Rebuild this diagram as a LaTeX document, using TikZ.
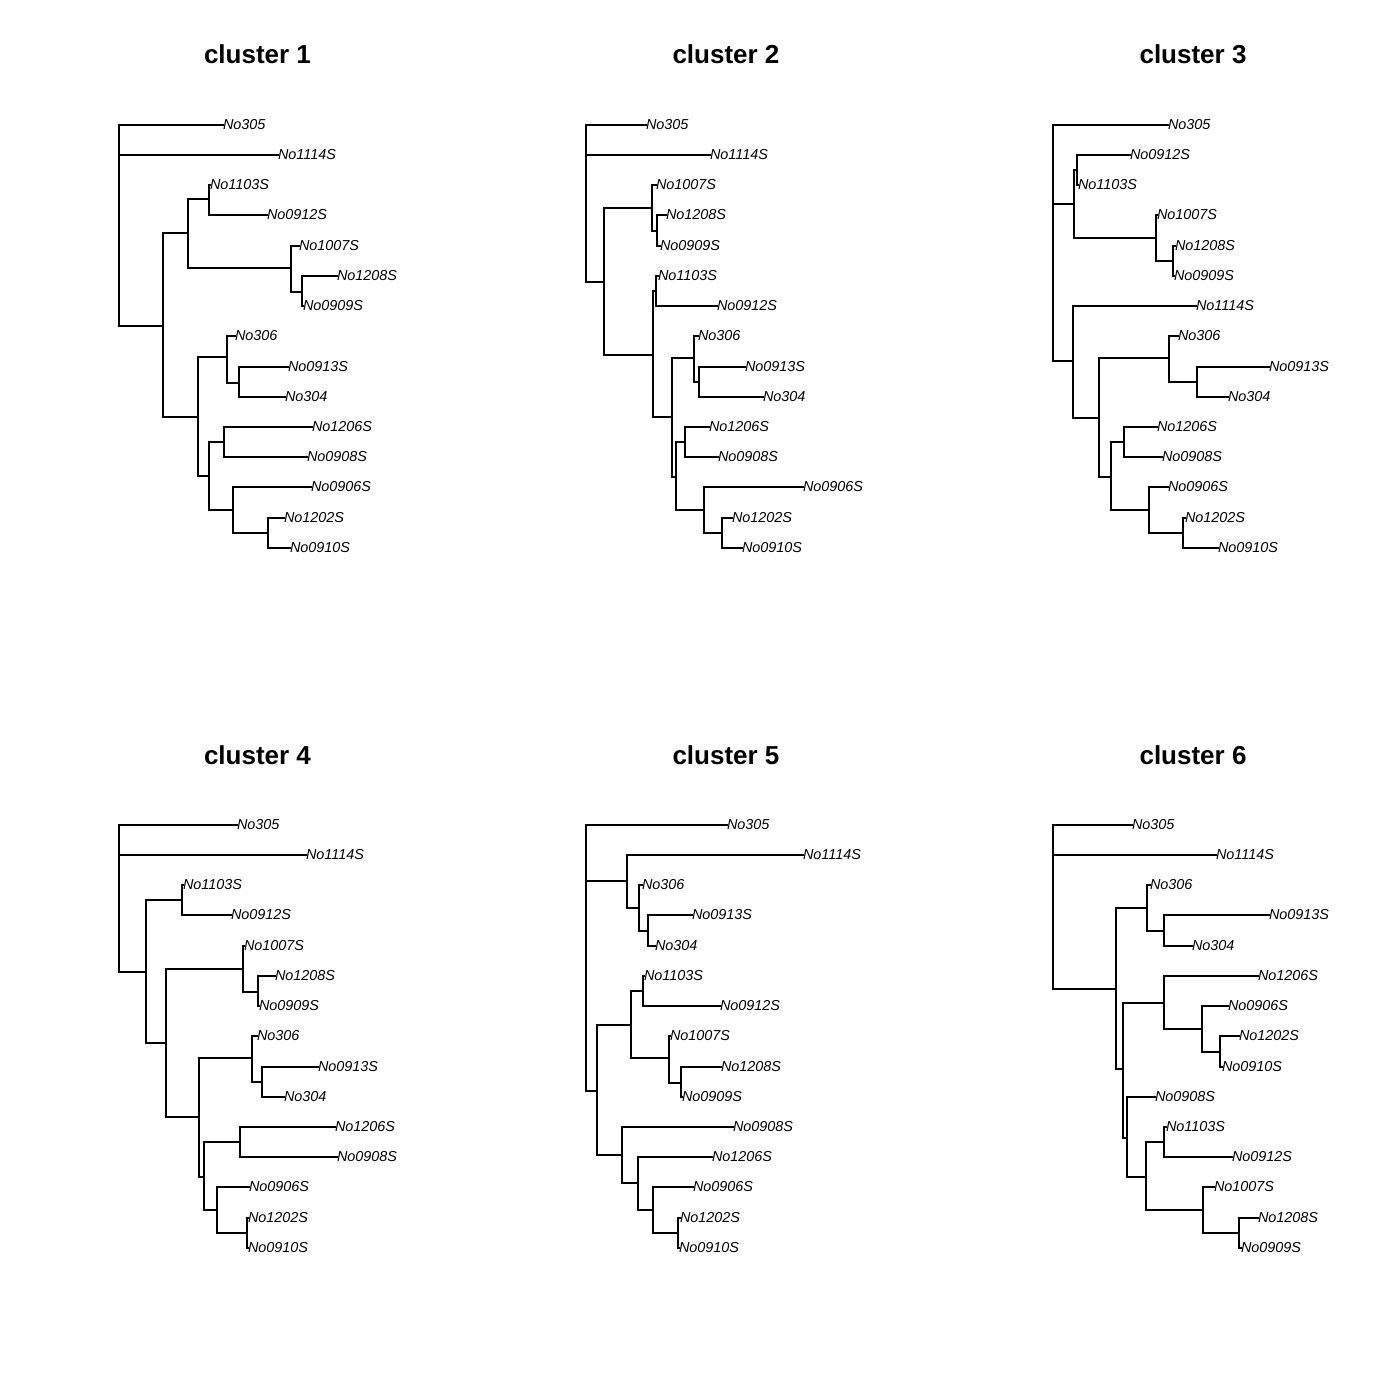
\documentclass[tikz,border=0pt]{standalone}
\usepackage{fontspec}
\setmainfont{Liberation Sans}
\usepackage{tikz}
\tikzset{
  branch/.style={line width=1pt, line cap=rect},
  tiplabel/.style={anchor=west, inner sep=0pt, outer sep=0pt, font=\fontsize{7.2}{8}\selectfont\itshape},
  paneltitle/.style={anchor=base, inner sep=0pt, font=\fontsize{13}{15}\selectfont\bfseries}
}
\begin{document}
\begin{tikzpicture}[x=0.5pt, y=-0.5pt]
  \useasboundingbox (0,0) rectangle (1400,1400);

  \node[paneltitle] (title1) at (257.5,64) {cluster 1};
  \node[paneltitle] (title2) at (726,64) {cluster 2};
  \node[paneltitle] (title3) at (1193,64) {cluster 3};
  \node[paneltitle] (title4) at (257.5,764) {cluster 4};
  \node[paneltitle] (title5) at (726,764) {cluster 5};
  \node[paneltitle] (title6) at (1193,764) {cluster 6};

  % cluster 1
  \node[tiplabel] (c1No305) at (223,125) {No305};
  \node[tiplabel] (c1No1114S) at (278,155) {No1114S};
  \node[tiplabel] (c1No1103S) at (210,185) {No1103S};
  \node[tiplabel] (c1No0912S) at (267,215) {No0912S};
  \node[tiplabel] (c1No1007S) at (299,246) {No1007S};
  \node[tiplabel] (c1No1208S) at (337,276) {No1208S};
  \node[tiplabel] (c1No0909S) at (303,306) {No0909S};
  \node[tiplabel] (c1No306) at (235,336) {No306};
  \node[tiplabel] (c1No0913S) at (288,367) {No0913S};
  \node[tiplabel] (c1No304) at (285,397) {No304};
  \node[tiplabel] (c1No1206S) at (312,427) {No1206S};
  \node[tiplabel] (c1No0908S) at (307,457) {No0908S};
  \node[tiplabel] (c1No0906S) at (311,487) {No0906S};
  \node[tiplabel] (c1No1202S) at (284,518) {No1202S};
  \node[tiplabel] (c1No0910S) at (290,548) {No0910S};
  \coordinate (c1root) at (119,240);
  \coordinate (c1n1) at (163,326);
  \coordinate (c1a) at (188,233);
  \coordinate (c1a1) at (209,199);
  \coordinate (c1a2) at (291,268);
  \coordinate (c1a2s) at (302,292);
  \coordinate (c1b) at (198,417);
  \coordinate (c1b1) at (227,357);
  \coordinate (c1b1s) at (239,383);
  \coordinate (c1b2) at (209,476);
  \coordinate (c1b2a) at (224,442);
  \coordinate (c1b2b) at (233,510);
  \coordinate (c1b2bs) at (268,533);
  \draw[branch] (c1root) |- (c1No305) (c1root) |- (c1No1114S) (c1root) |- (c1n1);
  \draw[branch] (c1n1) |- (c1a) (c1n1) |- (c1b);
  \draw[branch] (c1a) |- (c1a1) (c1a) |- (c1a2);
  \draw[branch] (c1a1) |- (c1No1103S) (c1a1) |- (c1No0912S);
  \draw[branch] (c1a2) |- (c1No1007S) (c1a2) |- (c1a2s);
  \draw[branch] (c1a2s) |- (c1No1208S) (c1a2s) |- (c1No0909S);
  \draw[branch] (c1b) |- (c1b1) (c1b) |- (c1b2);
  \draw[branch] (c1b1) |- (c1No306) (c1b1) |- (c1b1s);
  \draw[branch] (c1b1s) |- (c1No0913S) (c1b1s) |- (c1No304);
  \draw[branch] (c1b2) |- (c1b2a) (c1b2) |- (c1b2b);
  \draw[branch] (c1b2a) |- (c1No1206S) (c1b2a) |- (c1No0908S);
  \draw[branch] (c1b2b) |- (c1No0906S) (c1b2b) |- (c1b2bs);
  \draw[branch] (c1b2bs) |- (c1No1202S) (c1b2bs) |- (c1No0910S);

  % cluster 2
  \node[tiplabel] (c2No305) at (646,125) {No305};
  \node[tiplabel] (c2No1114S) at (710,155) {No1114S};
  \node[tiplabel] (c2No1007S) at (656,185) {No1007S};
  \node[tiplabel] (c2No1208S) at (666,215) {No1208S};
  \node[tiplabel] (c2No0909S) at (660,246) {No0909S};
  \node[tiplabel] (c2No1103S) at (658,276) {No1103S};
  \node[tiplabel] (c2No0912S) at (717,306) {No0912S};
  \node[tiplabel] (c2No306) at (698,336) {No306};
  \node[tiplabel] (c2No0913S) at (745,367) {No0913S};
  \node[tiplabel] (c2No304) at (763,397) {No304};
  \node[tiplabel] (c2No1206S) at (709,427) {No1206S};
  \node[tiplabel] (c2No0908S) at (718,457) {No0908S};
  \node[tiplabel] (c2No0906S) at (803,487) {No0906S};
  \node[tiplabel] (c2No1202S) at (732,518) {No1202S};
  \node[tiplabel] (c2No0910S) at (742,548) {No0910S};
  \coordinate (c2root) at (586,204);
  \coordinate (c2n1) at (604,282);
  \coordinate (c2a) at (652,208);
  \coordinate (c2as) at (657,231);
  \coordinate (c2b) at (653,355);
  \coordinate (c2b1) at (656,291);
  \coordinate (c2b2) at (672,417);
  \coordinate (c2b2a) at (694,358);
  \coordinate (c2b2as) at (699,382);
  \coordinate (c2b2b) at (676,477);
  \coordinate (c2b2b1) at (685,442);
  \coordinate (c2b2b2) at (704,510);
  \coordinate (c2b2b2s) at (722,533);
  \draw[branch] (c2root) |- (c2No305) (c2root) |- (c2No1114S) (c2root) |- (c2n1);
  \draw[branch] (c2n1) |- (c2a) (c2n1) |- (c2b);
  \draw[branch] (c2a) |- (c2No1007S) (c2a) |- (c2as);
  \draw[branch] (c2as) |- (c2No1208S) (c2as) |- (c2No0909S);
  \draw[branch] (c2b) |- (c2b1) (c2b) |- (c2b2);
  \draw[branch] (c2b1) |- (c2No1103S) (c2b1) |- (c2No0912S);
  \draw[branch] (c2b2) |- (c2b2a) (c2b2) |- (c2b2b);
  \draw[branch] (c2b2a) |- (c2No306) (c2b2a) |- (c2b2as);
  \draw[branch] (c2b2as) |- (c2No0913S) (c2b2as) |- (c2No304);
  \draw[branch] (c2b2b) |- (c2b2b1) (c2b2b) |- (c2b2b2);
  \draw[branch] (c2b2b1) |- (c2No1206S) (c2b2b1) |- (c2No0908S);
  \draw[branch] (c2b2b2) |- (c2No0906S) (c2b2b2) |- (c2b2b2s);
  \draw[branch] (c2b2b2s) |- (c2No1202S) (c2b2b2s) |- (c2No0910S);

  % cluster 3
  \node[tiplabel] (c3No305) at (1168,125) {No305};
  \node[tiplabel] (c3No0912S) at (1130,155) {No0912S};
  \node[tiplabel] (c3No1103S) at (1078,185) {No1103S};
  \node[tiplabel] (c3No1007S) at (1157,215) {No1007S};
  \node[tiplabel] (c3No1208S) at (1175,246) {No1208S};
  \node[tiplabel] (c3No0909S) at (1174,276) {No0909S};
  \node[tiplabel] (c3No1114S) at (1196,306) {No1114S};
  \node[tiplabel] (c3No306) at (1178,336) {No306};
  \node[tiplabel] (c3No0913S) at (1269,367) {No0913S};
  \node[tiplabel] (c3No304) at (1228,397) {No304};
  \node[tiplabel] (c3No1206S) at (1157,427) {No1206S};
  \node[tiplabel] (c3No0908S) at (1162,457) {No0908S};
  \node[tiplabel] (c3No0906S) at (1168,487) {No0906S};
  \node[tiplabel] (c3No1202S) at (1185,518) {No1202S};
  \node[tiplabel] (c3No0910S) at (1218,548) {No0910S};
  \coordinate (c3root) at (1053,283);
  \coordinate (c3a) at (1074,204);
  \coordinate (c3a1) at (1077,170);
  \coordinate (c3a2) at (1156,238);
  \coordinate (c3a2s) at (1173,261);
  \coordinate (c3b) at (1073,361);
  \coordinate (c3b2) at (1099,418);
  \coordinate (c3b2a) at (1169,358);
  \coordinate (c3b2as) at (1197,382);
  \coordinate (c3b2b) at (1111,477);
  \coordinate (c3b2b1) at (1124,442);
  \coordinate (c3b2b2) at (1149,510);
  \coordinate (c3b2b2s) at (1183,533);
  \draw[branch] (c3root) |- (c3No305) (c3root) |- (c3a) (c3root) |- (c3b);
  \draw[branch] (c3a) |- (c3a1) (c3a) |- (c3a2);
  \draw[branch] (c3a1) |- (c3No0912S) (c3a1) |- (c3No1103S);
  \draw[branch] (c3a2) |- (c3No1007S) (c3a2) |- (c3a2s);
  \draw[branch] (c3a2s) |- (c3No1208S) (c3a2s) |- (c3No0909S);
  \draw[branch] (c3b) |- (c3No1114S) (c3b) |- (c3b2);
  \draw[branch] (c3b2) |- (c3b2a) (c3b2) |- (c3b2b);
  \draw[branch] (c3b2a) |- (c3No306) (c3b2a) |- (c3b2as);
  \draw[branch] (c3b2as) |- (c3No0913S) (c3b2as) |- (c3No304);
  \draw[branch] (c3b2b) |- (c3b2b1) (c3b2b) |- (c3b2b2);
  \draw[branch] (c3b2b1) |- (c3No1206S) (c3b2b1) |- (c3No0908S);
  \draw[branch] (c3b2b2) |- (c3No0906S) (c3b2b2) |- (c3b2b2s);
  \draw[branch] (c3b2b2s) |- (c3No1202S) (c3b2b2s) |- (c3No0910S);

  % cluster 4
  \node[tiplabel] (c4No305) at (237,825) {No305};
  \node[tiplabel] (c4No1114S) at (306,855) {No1114S};
  \node[tiplabel] (c4No1103S) at (183,885) {No1103S};
  \node[tiplabel] (c4No0912S) at (231,915) {No0912S};
  \node[tiplabel] (c4No1007S) at (244,946) {No1007S};
  \node[tiplabel] (c4No1208S) at (275,976) {No1208S};
  \node[tiplabel] (c4No0909S) at (259,1006) {No0909S};
  \node[tiplabel] (c4No306) at (257,1036) {No306};
  \node[tiplabel] (c4No0913S) at (318,1067) {No0913S};
  \node[tiplabel] (c4No304) at (284,1097) {No304};
  \node[tiplabel] (c4No1206S) at (335,1127) {No1206S};
  \node[tiplabel] (c4No0908S) at (337,1157) {No0908S};
  \node[tiplabel] (c4No0906S) at (249,1187) {No0906S};
  \node[tiplabel] (c4No1202S) at (248,1218) {No1202S};
  \node[tiplabel] (c4No0910S) at (248,1248) {No0910S};
  \coordinate (c4root) at (119,912);
  \coordinate (c4n1) at (146,972);
  \coordinate (c4a) at (182,900);
  \coordinate (c4n2) at (166,1043);
  \coordinate (c4b) at (243,969);
  \coordinate (c4bs) at (258,992);
  \coordinate (c4n3) at (199,1117);
  \coordinate (c4c) at (252,1058);
  \coordinate (c4cs) at (262,1082);
  \coordinate (c4n4) at (204,1177);
  \coordinate (c4d) at (240,1142);
  \coordinate (c4e) at (217,1210);
  \coordinate (c4es) at (247,1233);
  \draw[branch] (c4root) |- (c4No305) (c4root) |- (c4No1114S) (c4root) |- (c4n1);
  \draw[branch] (c4n1) |- (c4a) (c4n1) |- (c4n2);
  \draw[branch] (c4a) |- (c4No1103S) (c4a) |- (c4No0912S);
  \draw[branch] (c4n2) |- (c4b) (c4n2) |- (c4n3);
  \draw[branch] (c4b) |- (c4No1007S) (c4b) |- (c4bs);
  \draw[branch] (c4bs) |- (c4No1208S) (c4bs) |- (c4No0909S);
  \draw[branch] (c4n3) |- (c4c) (c4n3) |- (c4n4);
  \draw[branch] (c4c) |- (c4No306) (c4c) |- (c4cs);
  \draw[branch] (c4cs) |- (c4No0913S) (c4cs) |- (c4No304);
  \draw[branch] (c4n4) |- (c4d) (c4n4) |- (c4e);
  \draw[branch] (c4d) |- (c4No1206S) (c4d) |- (c4No0908S);
  \draw[branch] (c4e) |- (c4No0906S) (c4e) |- (c4es);
  \draw[branch] (c4es) |- (c4No1202S) (c4es) |- (c4No0910S);

  % cluster 5
  \node[tiplabel] (c5No305) at (727,825) {No305};
  \node[tiplabel] (c5No1114S) at (803,855) {No1114S};
  \node[tiplabel] (c5No306) at (642,885) {No306};
  \node[tiplabel] (c5No0913S) at (692,915) {No0913S};
  \node[tiplabel] (c5No304) at (655,946) {No304};
  \node[tiplabel] (c5No1103S) at (644,976) {No1103S};
  \node[tiplabel] (c5No0912S) at (720,1006) {No0912S};
  \node[tiplabel] (c5No1007S) at (670,1036) {No1007S};
  \node[tiplabel] (c5No1208S) at (721,1067) {No1208S};
  \node[tiplabel] (c5No0909S) at (682,1097) {No0909S};
  \node[tiplabel] (c5No0908S) at (733,1127) {No0908S};
  \node[tiplabel] (c5No1206S) at (712,1157) {No1206S};
  \node[tiplabel] (c5No0906S) at (693,1187) {No0906S};
  \node[tiplabel] (c5No1202S) at (680,1218) {No1202S};
  \node[tiplabel] (c5No0910S) at (679,1248) {No0910S};
  \coordinate (c5root) at (586,958);
  \coordinate (c5a) at (627,881);
  \coordinate (c5a1) at (639,908);
  \coordinate (c5a1s) at (648,931);
  \coordinate (c5b) at (597,1091);
  \coordinate (c5b1) at (631,1025);
  \coordinate (c5b1a) at (643,991);
  \coordinate (c5b1b) at (669,1058);
  \coordinate (c5b1bs) at (681,1083);
  \coordinate (c5b2) at (622,1155);
  \coordinate (c5b2a) at (638,1183);
  \coordinate (c5b2b) at (653,1210);
  \coordinate (c5b2bs) at (678,1233);
  \draw[branch] (c5root) |- (c5No305) (c5root) |- (c5a) (c5root) |- (c5b);
  \draw[branch] (c5a) |- (c5No1114S) (c5a) |- (c5a1);
  \draw[branch] (c5a1) |- (c5No306) (c5a1) |- (c5a1s);
  \draw[branch] (c5a1s) |- (c5No0913S) (c5a1s) |- (c5No304);
  \draw[branch] (c5b) |- (c5b1) (c5b) |- (c5b2);
  \draw[branch] (c5b1) |- (c5b1a) (c5b1) |- (c5b1b);
  \draw[branch] (c5b1a) |- (c5No1103S) (c5b1a) |- (c5No0912S);
  \draw[branch] (c5b1b) |- (c5No1007S) (c5b1b) |- (c5b1bs);
  \draw[branch] (c5b1bs) |- (c5No1208S) (c5b1bs) |- (c5No0909S);
  \draw[branch] (c5b2) |- (c5No0908S) (c5b2) |- (c5b2a);
  \draw[branch] (c5b2a) |- (c5No1206S) (c5b2a) |- (c5b2b);
  \draw[branch] (c5b2b) |- (c5No0906S) (c5b2b) |- (c5b2bs);
  \draw[branch] (c5b2bs) |- (c5No1202S) (c5b2bs) |- (c5No0910S);

  % cluster 6
  \node[tiplabel] (c6No305) at (1132,825) {No305};
  \node[tiplabel] (c6No1114S) at (1216,855) {No1114S};
  \node[tiplabel] (c6No306) at (1150,885) {No306};
  \node[tiplabel] (c6No0913S) at (1269,915) {No0913S};
  \node[tiplabel] (c6No304) at (1192,946) {No304};
  \node[tiplabel] (c6No1206S) at (1258,976) {No1206S};
  \node[tiplabel] (c6No0906S) at (1228,1006) {No0906S};
  \node[tiplabel] (c6No1202S) at (1239,1036) {No1202S};
  \node[tiplabel] (c6No0910S) at (1222,1067) {No0910S};
  \node[tiplabel] (c6No0908S) at (1155,1097) {No0908S};
  \node[tiplabel] (c6No1103S) at (1166,1127) {No1103S};
  \node[tiplabel] (c6No0912S) at (1232,1157) {No0912S};
  \node[tiplabel] (c6No1007S) at (1214,1187) {No1007S};
  \node[tiplabel] (c6No1208S) at (1258,1218) {No1208S};
  \node[tiplabel] (c6No0909S) at (1241,1248) {No0909S};
  \coordinate (c6root) at (1053,923);
  \coordinate (c6n1) at (1116,989);
  \coordinate (c6a) at (1147,908);
  \coordinate (c6as) at (1164,931);
  \coordinate (c6n2) at (1123,1069);
  \coordinate (c6b) at (1164,1003);
  \coordinate (c6bs) at (1202,1029);
  \coordinate (c6bss) at (1220,1052);
  \coordinate (c6n3) at (1127,1138);
  \coordinate (c6n4) at (1146,1177);
  \coordinate (c6c) at (1164,1142);
  \coordinate (c6d) at (1203,1210);
  \coordinate (c6ds) at (1239,1233);
  \draw[branch] (c6root) |- (c6No305) (c6root) |- (c6No1114S) (c6root) |- (c6n1);
  \draw[branch] (c6n1) |- (c6a) (c6n1) |- (c6n2);
  \draw[branch] (c6a) |- (c6No306) (c6a) |- (c6as);
  \draw[branch] (c6as) |- (c6No0913S) (c6as) |- (c6No304);
  \draw[branch] (c6n2) |- (c6b) (c6n2) |- (c6n3);
  \draw[branch] (c6b) |- (c6No1206S) (c6b) |- (c6bs);
  \draw[branch] (c6bs) |- (c6No0906S) (c6bs) |- (c6bss);
  \draw[branch] (c6bss) |- (c6No1202S) (c6bss) |- (c6No0910S);
  \draw[branch] (c6n3) |- (c6No0908S) (c6n3) |- (c6n4);
  \draw[branch] (c6n4) |- (c6c) (c6n4) |- (c6d);
  \draw[branch] (c6c) |- (c6No1103S) (c6c) |- (c6No0912S);
  \draw[branch] (c6d) |- (c6No1007S) (c6d) |- (c6ds);
  \draw[branch] (c6ds) |- (c6No1208S) (c6ds) |- (c6No0909S);
\end{tikzpicture}
\end{document}
